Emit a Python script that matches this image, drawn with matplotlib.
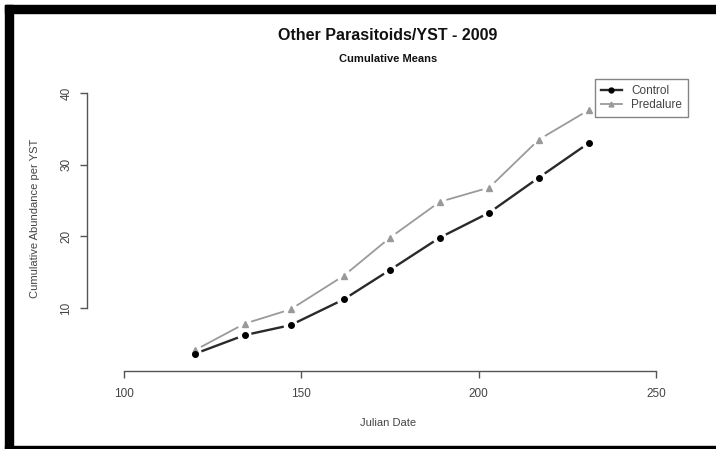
import numpy as np
import matplotlib.pyplot as plt
from matplotlib.patches import Rectangle
from matplotlib.lines import Line2D

# --- datos ---
julian_date = [120, 134, 147, 162, 175, 189, 203, 217, 231]
control = [3.6, 6.2, 7.6, 11.2, 15.3, 19.8, 23.3, 28.2, 33.0]
predalure = [4.1, 7.8, 9.8, 14.5, 19.8, 24.8, 26.8, 33.5, 37.6]
x_ticks = [100, 150, 200, 250]
y_ticks = [10, 20, 30, 40]

plt.rcParams['font.family'] = ['Liberation Sans', 'DejaVu Sans']

W, H = 716, 449
fig = plt.figure(figsize=(W / 100, H / 100), dpi=100)

# marco negro (arriba, izquierda, abajo)
for (x0, y0, w, h) in [(5, 5, W - 5, 8), (5, 5, 8, H - 5), (5, 446, W - 5, 3)]:
    fig.patches.append(Rectangle((x0 / W, 1 - (y0 + h) / H), w / W, h / H,
                                 transform=fig.transFigure, color='black', zorder=0))

# zona del gráfico en píxeles
left, right, top, bottom = 87, 689, 65, 371
ax = fig.add_axes([left / W, 1 - bottom / H, (right - left) / W, (bottom - top) / H])
ax.set_xlim(89.6, 259.3)
ax.set_ylim(1.2, 43.9)

axis_col = '#555555'
text_col = '#444444'


def linea_tipo_b(xs, ys, gap_px, **kw):
    # segmentos con hueco alrededor de cada punto, como type="b" en R
    pts = ax.transData.transform(np.column_stack([xs, ys]))
    inv = ax.transData.inverted()
    for p0, p1 in zip(pts[:-1], pts[1:]):
        d = p1 - p0
        n = np.hypot(*d)
        if n <= 2 * gap_px:
            continue
        u = d / n
        a, b = inv.transform([p0 + u * gap_px, p1 - u * gap_px])
        ax.plot([a[0], b[0]], [a[1], b[1]], solid_capstyle='butt', **kw)


linea_tipo_b(julian_date, predalure, 7, color='#9a9a9a', lw=1.3, zorder=3)
ax.plot(julian_date, predalure, ls='none', marker='^', ms=4.5, mfc='#999999',
        mec='#999999', zorder=3)
linea_tipo_b(julian_date, control, 7, color='#2a2a2a', lw=1.7, zorder=4)
ax.plot(julian_date, control, ls='none', marker='o', ms=4, mfc='black',
        mec='black', zorder=4)

for side in ['top', 'right']:
    ax.spines[side].set_visible(False)
ax.spines['left'].set_bounds(10, 40)
ax.spines['bottom'].set_bounds(100, 250)
for side in ['left', 'bottom']:
    ax.spines[side].set_color(axis_col)
    ax.spines[side].set_linewidth(1.0)

ax.set_xticks(x_ticks)
ax.set_yticks(y_ticks)
ax.tick_params(axis='both', colors=axis_col, length=5, width=1.0, labelcolor=text_col,
               labelsize=8.5)
ax.tick_params(axis='x', pad=7.5)
ax.tick_params(axis='y', pad=5.5, labelrotation=90)
for lab in ax.get_yticklabels():
    lab.set_va('center')

# textos
fig.text(388 / W, 1 - 35 / H, 'Other Parasitoids/YST - 2009', ha='center', va='center',
         fontsize=11.5, fontweight='bold', color='#111111')
fig.text(388 / W, 1 - 59 / H, 'Cumulative Means', ha='center', va='center',
         fontsize=8, fontweight='bold', color='#111111')
fig.text(388 / W, 1 - 423 / H, 'Julian Date', ha='center', va='center',
         fontsize=8, color=text_col)
fig.text(35 / W, 1 - 218 / H, 'Cumulative Abundance per YST', ha='center', va='center',
         rotation=90, fontsize=8, color=text_col)

h_control = Line2D([], [], color='#2a2a2a', lw=1.7, marker='o', ms=3.5,
                   mfc='black', mec='black')
h_pred = Line2D([], [], color='#9a9a9a', lw=1.3, marker='^', ms=3.5,
                mfc='#999999', mec='#999999')
leg = ax.legend([h_control, h_pred], ['Control', 'Predalure'], loc='upper right',
                bbox_to_anchor=(694 / W, 1 - 73 / H), bbox_transform=fig.transFigure,
                fontsize=8.5, frameon=True, fancybox=False, borderpad=0.5,
                handlelength=1.8, handletextpad=0.8, labelspacing=0.2)
leg.get_frame().set_edgecolor('#666666')
leg.get_frame().set_linewidth(1.0)
for t in leg.get_texts():
    t.set_color(text_col)

fig.savefig('out.png', dpi=100)
